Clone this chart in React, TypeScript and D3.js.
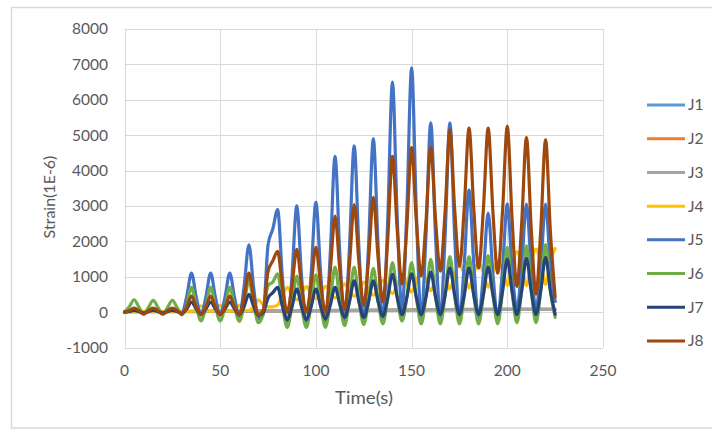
import React from 'react';
import * as d3 from 'd3';

// Time axis (s)
const TIME = [
  0, 2.5, 5, 7.5, 10, 12.5, 15, 17.5, 20, 22.5, 25, 27.5, 30, 32.5, 35, 37.5,
  40, 42.5, 45, 47.5, 50, 52.5, 55, 57.5, 60, 62.5, 65, 67.5, 70, 72.5, 75, 77.5,
  80, 82.5, 85, 87.5, 90, 92.5, 95, 97.5, 100, 102.5, 105, 107.5, 110, 112.5, 115, 117.5,
  120, 122.5, 125, 127.5, 130, 132.5, 135, 137.5, 140, 142.5, 145, 147.5, 150, 152.5, 155, 157.5,
  160, 162.5, 165, 167.5, 170, 172.5, 175, 177.5, 180, 182.5, 185, 187.5, 190, 192.5, 195, 197.5,
  200, 202.5, 205, 207.5, 210, 212.5, 215, 217.5, 220, 222.5, 225,
];

// Near-zero gauges
const TIME_FLAT = [0, 50, 100, 150, 200, 225];
const J1 = [10, 20, 40, 60, 80, 80];
const J2 = [10, 20, 40, 60, 80, 80];
const J3 = [10, 20, 40, 60, 80, 80];

const J4 = [
  20, 20, 20, 20, 20, 20, 20, 20, 20, 20, 20, 25, 25, 25, 25, 60,
  180, 60, 30, 60, 200, 60, 30, 60, 200, 60, 40, 150, 350, 200, 150, 150,
  200, 450, 700, 500, 350, 500, 720, 520, 380, 520, 730, 550, 400, 580, 800, 600,
  450, 630, 850, 650, 480, 680, 900, 720, 520, 780, 1050, 820, 560, 880, 1150, 900,
  600, 950, 1250, 1000, 650, 1050, 1350, 1080, 680, 1100, 1400, 1120, 700, 1150, 1450, 1200,
  750, 1350, 1700, 1350, 750, 1400, 1780, 1400, 780, 1450, 1800,
];

const J5 = [
  0, 20, 60, 20, -20, 20, 60, 20, -20, 20, 60, 20, -30, 440, 1100, 420,
  -80, 420, 1100, 420, -80, 420, 1100, 410, -120, 730, 1900, 680, -200, -50, 1900, 2350,
  2900, 970, -420, 1010, 3000, 1010, -420, 1070, 3100, 1080, -380, 1640, 4400, 1640, -350, 1780,
  4700, 1780, -330, 1875, 4900, 1875, -300, 2550, 6500, 2650, 50, 2840, 6900, 2800, -170, 2150,
  5350, 2150, -170, 2150, 5350, 2150, -170, 1350, 3450, 1350, -170, 1080, 2800, 1080, -170, 1220,
  3050, 1220, 80, 1280, 3050, 1280, 80, 1280, 3050, 1300, 300,
];

const J6 = [
  0, 150, 350, 150, -50, 130, 330, 130, -50, 130, 330, 130, -80, 200, 700, 150,
  -250, 150, 700, 150, -250, 150, 700, 150, -260, 220, 900, 220, -300, -50, 750, 850,
  1080, 200, -430, 180, 1020, 180, -430, 190, 1050, 190, -430, 300, 1270, 300, -380, 320,
  1270, 320, -350, 320, 1240, 320, -330, 400, 1400, 420, -250, 420, 1400, 400, -330, 430,
  1490, 430, -330, 470, 1570, 470, -330, 470, 1570, 470, -330, 480, 1600, 480, -330, 590,
  1830, 590, -300, 610, 1870, 610, -300, 630, 1910, 600, -150,
];

const J7 = [
  0, 20, 50, 20, -30, 20, 50, 20, -30, 20, 50, 20, -40, 90, 280, 90,
  -60, 90, 280, 90, -60, 90, 280, 90, -80, 160, 500, 160, -100, -20, 400, 550,
  700, 170, -220, 150, 650, 150, -220, 150, 650, 160, -200, 190, 700, 210, -150, 280,
  880, 280, -150, 280, 880, 290, -120, 390, 1070, 410, -70, 410, 1080, 410, -70, 430,
  1130, 430, -70, 480, 1250, 480, -70, 480, 1250, 480, -70, 490, 1270, 490, -70, 590,
  1500, 590, -70, 600, 1520, 600, -70, 610, 1550, 610, -60,
];

const J8 = [
  0, 40, 110, 40, -60, 40, 110, 40, -60, 40, 110, 40, -60, 150, 450, 150,
  -80, 150, 450, 150, -80, 150, 450, 150, -80, 420, 1100, 420, -80, 60, 1150, 1450,
  1720, 720, 0, 740, 1770, 740, 0, 770, 1830, 770, 0, 1160, 2710, 1190, 80, 1320,
  3040, 1390, 190, 1470, 3240, 1530, 290, 2020, 4400, 2310, 790, 2410, 4650, 2550, 1020, 2550,
  4650, 2630, 1160, 2840, 5150, 2910, 1290, 2930, 5200, 2900, 1240, 2900, 5200, 2820, 1100, 2840,
  5250, 2630, 730, 2490, 4930, 2370, 510, 2340, 4870, 2290, 420,
];

const SERIES_NAMES = ['J1', 'J2', 'J3', 'J4', 'J5', 'J6', 'J7', 'J8'];
const SERIES_COLORS = ['#5B9BD5', '#ED7D31', '#A5A5A5', '#FFC000', '#4472C4', '#70AD47', '#264478', '#9E480E'];
const SERIES_VALUES = [J1, J2, J3, J4, J5, J6, J7, J8];
const SERIES_TIMES = [TIME_FLAT, TIME_FLAT, TIME_FLAT, TIME, TIME, TIME, TIME, TIME];

const Y_TICKS = [-1000, 0, 1000, 2000, 3000, 4000, 5000, 6000, 7000, 8000];
const X_TICKS = [0, 50, 100, 150, 200, 250];

const FONT = "Lato, 'Open Sans', 'DejaVu Sans', sans-serif";
const TEXT = '#595959';
const GRID = '#d9d9d9';

export default function App() {
  const x = d3.scaleLinear().domain([0, 250]).range([124.5, 603]);
  const y = d3.scaleLinear().domain([-1000, 8000]).range([347.5, 29]);

  const line = (ts: number[], vs: number[]) =>
    d3
      .line<number>()
      .x((_, i) => x(ts[i]))
      .y((v) => y(v))
      .curve(d3.curveMonotoneX)(vs) || '';

  const legendY = d3.scaleLinear().domain([0, 7]).range([105, 341]);

  return (
    <svg
      width={712}
      height={433}
      style={{ position: 'absolute', left: 0, top: 0, background: '#fff' }}
    >
      <rect x={11.5} y={7.5} width={712} height={420.5} fill="#fff" stroke={GRID} strokeWidth={1.5} />
      {Y_TICKS.map((t) => (
        <line key={'gy' + t} x1={x(0)} x2={x(250)} y1={Math.round(y(t)) + 0.5} y2={Math.round(y(t)) + 0.5} stroke={GRID} strokeWidth={1} />
      ))}
      {X_TICKS.map((t) => (
        <line key={'gx' + t} x1={Math.round(x(t)) + 0.5} x2={Math.round(x(t)) + 0.5} y1={y(8000)} y2={y(-1000)} stroke={GRID} strokeWidth={1} />
      ))}
      {SERIES_NAMES.map((n, k) => (
        <path
          key={n}
          d={line(SERIES_TIMES[k], SERIES_VALUES[k])}
          fill="none"
          stroke={SERIES_COLORS[k]}
          strokeWidth={3.2}
          strokeLinejoin="round"
          strokeLinecap="round"
        />
      ))}
      {Y_TICKS.map((t) => (
        <text key={'ty' + t} x={108} y={y(t)} dy="0.35em" textAnchor="end" fontFamily={FONT} fontSize={15.5} fill={TEXT}>
          {t}
        </text>
      ))}
      {X_TICKS.map((t) => (
        <text key={'tx' + t} x={x(t)} y={371} dy="0.35em" textAnchor="middle" fontFamily={FONT} fontSize={15.5} fill={TEXT}>
          {t}
        </text>
      ))}
      <text
        x={0}
        y={0}
        transform="translate(55,197) rotate(-90)"
        textAnchor="middle"
        fontFamily={FONT}
        fontSize={16}
        fill={TEXT}
      >
        Strain(1E-6)
      </text>
      <text
        x={364}
        y={404}
        textAnchor="middle"
        fontFamily={FONT}
        fontSize={17}
        fill={TEXT}
        textLength={58}
        lengthAdjust="spacingAndGlyphs"
      >
        Time(s)
      </text>
      {SERIES_NAMES.map((n, k) => (
        <g key={'lg' + n}>
          <line x1={647} x2={685} y1={legendY(k)} y2={legendY(k)} stroke={SERIES_COLORS[k]} strokeWidth={3} />
          <text x={688} y={legendY(k)} dy="0.35em" fontFamily={FONT} fontSize={15.5} fill={TEXT}>
            {n}
          </text>
        </g>
      ))}
    </svg>
  );
}
